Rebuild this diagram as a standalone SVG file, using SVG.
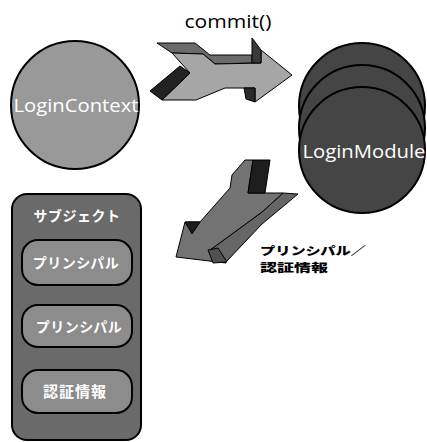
<svg xmlns="http://www.w3.org/2000/svg" width="427" height="442" viewBox="0 0 427 442">
<style>
.ln{stroke:#000;stroke-width:1;stroke-linejoin:round}
.nd{stroke:#000;stroke-width:2}
.lat{font-family:"Open Sans","Liberation Sans",sans-serif;fill:#fff}
.jp{font-family:"Noto Sans CJK JP",sans-serif;font-weight:bold;fill:#fff}
.jpb{font-family:"Noto Sans CJK JP",sans-serif;font-weight:900;fill:#000}
</style>
<rect width="427" height="442" fill="#fff"/>
<g id="connectors">
  <g id="commit-arrow">
    <polygon class="ln" fill="#6b6b6b" points="157,43 195,43 210,55 252,55 252,63 215,64 203,54 172,53"/>
    <polygon class="ln" fill="#a6a6a6" points="172,53 203,54 215,64 261,63 261,50 292,75 255,102 255,88 225,88 196,100 162,100 190,73"/>
    <polygon class="ln" fill="#3a3a3a" points="252,38 261,50 261,63 252,63"/>
    <polygon class="ln" fill="#2a2a2a" points="244,88 255,88 255,102 246,99"/>
    <polygon class="ln" fill="#222" points="150,91 180,66 190,73 162,100"/>
    <text x="228" y="28" text-anchor="middle" font-family="Open Sans, Liberation Sans, sans-serif" font-size="19" fill="#000" textLength="87" lengthAdjust="spacingAndGlyphs">commit()</text>
  </g>
  <g id="return-arrow">
    <polygon class="ln" fill="#666" points="283,193 298,194 262,224 226,262 210,250 262,212"/>
    <polygon class="ln" fill="#737373" points="245,160 253,160 248,193 283,193 262,212 232,234 210,250 226,263 176,257 185,222 200,222 230,188 232,175"/>
    <polygon class="ln" fill="#1e1e1e" points="253,160 270,160 265,193 248,193"/>
    <polygon class="ln" fill="#1e1e1e" points="185,222 200,222 192,234"/>
    <polygon class="ln" fill="#505050" points="208,250 218,248 227,262 213,263"/>
    <text class="jpb" x="260" y="255" font-size="11.5" textLength="106" lengthAdjust="spacingAndGlyphs">プリンシパル／</text>
    <text class="jpb" x="260" y="272" font-size="11.5" textLength="68" lengthAdjust="spacingAndGlyphs">認証情報</text>
  </g>
</g>
<g id="login-context">
  <circle class="nd" cx="75" cy="105" r="64" fill="#999"/>
  <text class="lat" x="76" y="112" text-anchor="middle" font-size="19" textLength="125" lengthAdjust="spacingAndGlyphs">LoginContext</text>
</g>
<g id="login-module">
  <circle class="nd" cx="362" cy="106" r="63" fill="#454545"/>
  <circle class="nd" cx="362" cy="128" r="63" fill="#454545"/>
  <circle class="nd" cx="362" cy="150" r="63" fill="#454545"/>
  <text class="lat" x="364" y="158" text-anchor="middle" font-size="19" textLength="123" lengthAdjust="spacingAndGlyphs">LoginModule</text>
</g>
<g id="subject">
  <rect class="nd" x="12" y="194" width="129" height="246" rx="15" fill="#6a6a6a"/>
  <text class="jp" x="77" y="221" text-anchor="middle" font-size="14" letter-spacing="0.5">サブジェクト</text>
  <g id="principal1">
    <rect class="nd" x="22" y="240" width="110" height="45" rx="16" fill="#8c8c8c"/>
    <text class="jp" x="76" y="268" text-anchor="middle" font-size="14" letter-spacing="0.5">プリンシパル</text>
  </g>
  <g id="principal2">
    <rect class="nd" x="22" y="305" width="110" height="42" rx="16" fill="#8c8c8c"/>
    <text class="jp" x="79" y="332" text-anchor="middle" font-size="14" letter-spacing="0.5">プリンシパル</text>
  </g>
  <g id="credential">
    <rect class="nd" x="22" y="370" width="110" height="43" rx="16" fill="#8c8c8c"/>
    <text class="jp" x="75" y="397" text-anchor="middle" font-size="15" letter-spacing="1">認証情報</text>
  </g>
</g>
</svg>
